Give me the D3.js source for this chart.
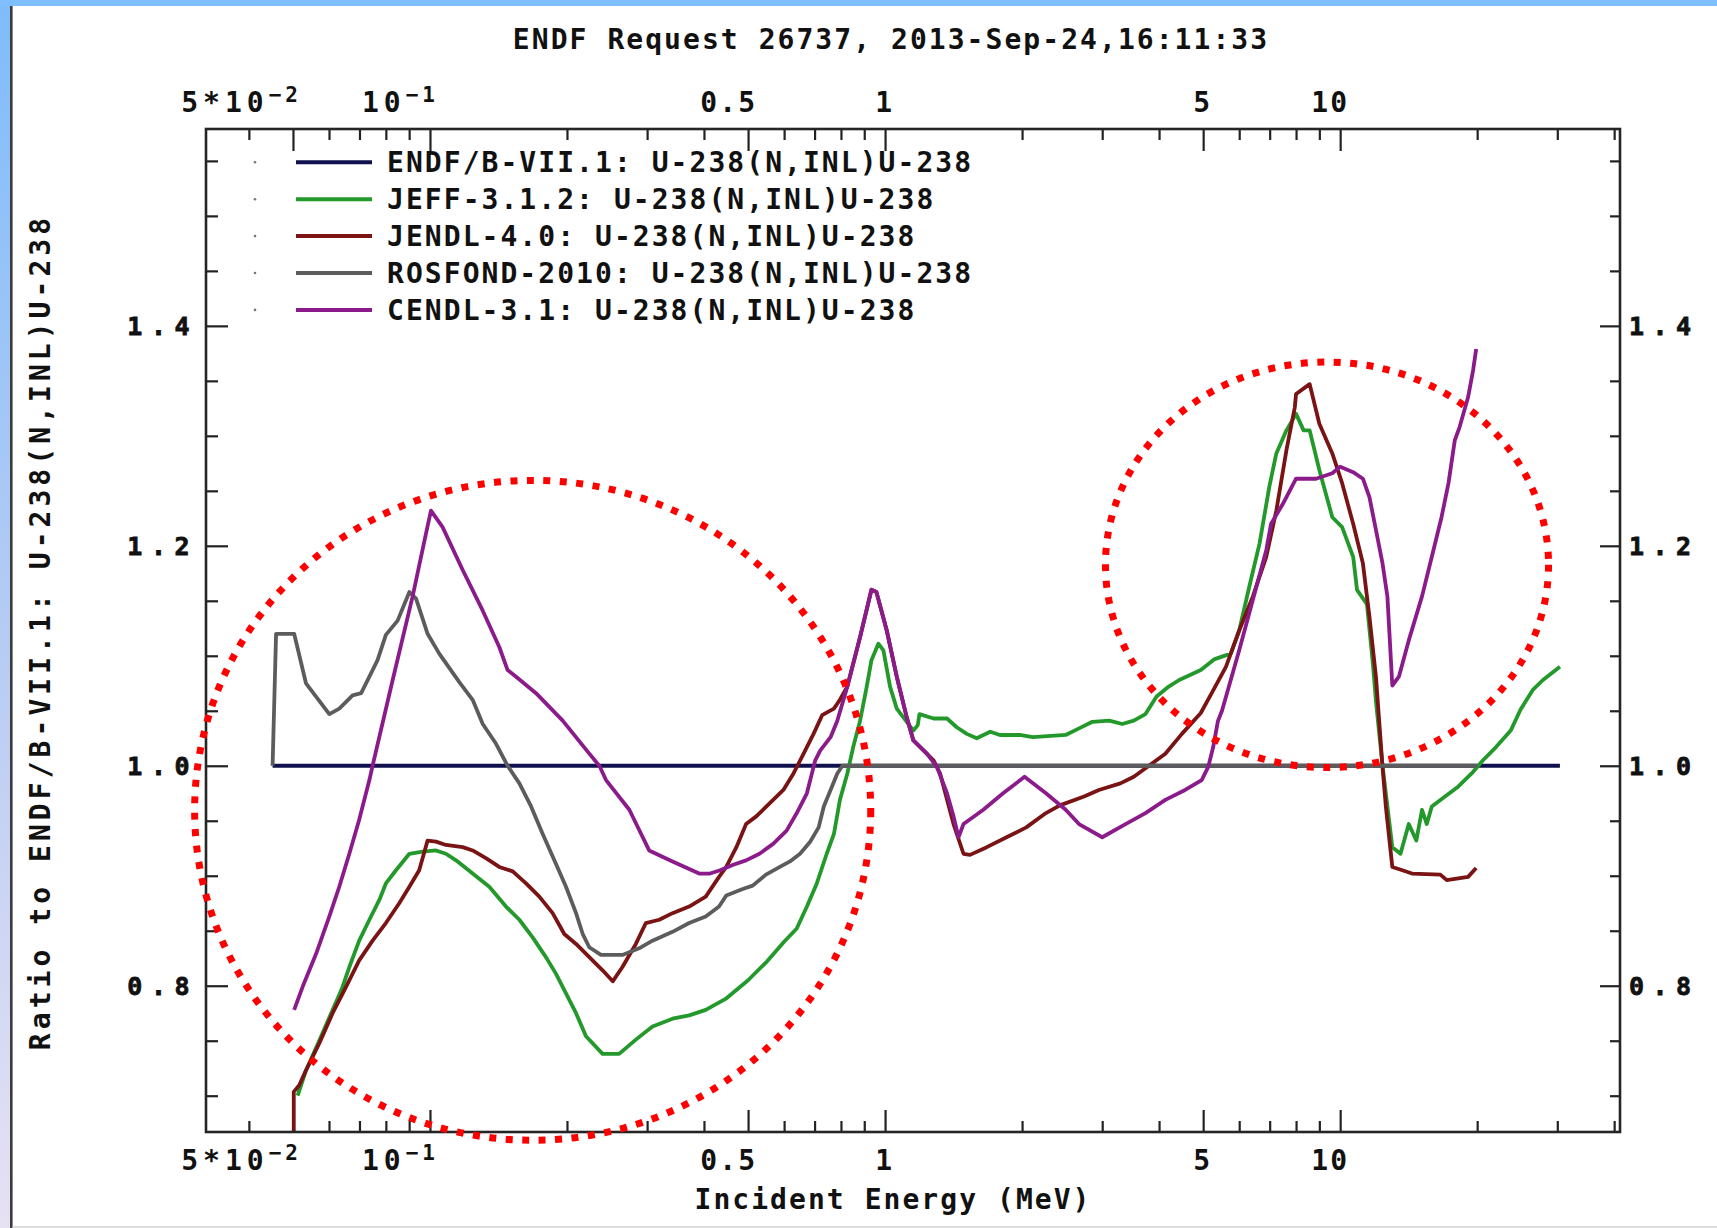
<!DOCTYPE html>
<html>
<head>
<meta charset="utf-8">
<script src="https://cdn.jsdelivr.net/npm/d3@7"></script>
<style>
  html, body { margin: 0; padding: 0; background: #ffffff; overflow: hidden; }
  svg { display: block; }
</style>
</head>
<body>
<svg id="chart" width="1717" height="1228"></svg>
<script>
// ---- axis ticks and labels ----
const energyMajor = [0.05, 0.1, 0.5, 1, 5, 10];
const energyMajorLabels = [["5*10", "\u22122"], ["10", "\u22121"], ["0.5", ""], ["1", ""], ["5", ""], ["10", ""]];
const energyMinor = [0.04, 0.06, 0.07, 0.08, 0.09, 0.2, 0.3, 0.4, 0.6, 0.7, 0.8, 0.9,
                     2, 3, 4, 6, 7, 8, 9, 20, 30, 40];
const ratioMajor = [0.8, 1.0, 1.2, 1.4];
const ratioLabels = ["0.8", "1.0", "1.2", "1.4"];
const ratioMinor = [0.7, 0.75, 0.85, 0.9, 0.95, 1.05, 1.1, 1.15, 1.25, 1.3, 1.35, 1.45, 1.5, 1.55];

// ---- evaluated libraries: [incident energy (MeV), ratio to ENDF/B-VII.1] ----
const libraryNames = [
  "ENDF/B-VII.1: U-238(N,INL)U-238",
  "JEFF-3.1.2: U-238(N,INL)U-238",
  "JENDL-4.0: U-238(N,INL)U-238",
  "ROSFOND-2010: U-238(N,INL)U-238",
  "CENDL-3.1: U-238(N,INL)U-238"
];
const libraryColors = ["#10104f", "#22992a", "#7a1414", "#5c5c5c", "#8b1b8b"];

const endf = [[0.0451, 1.0], [30.4, 1.0]];

const jeff = [
  [0.0512, 0.700], [0.0534, 0.723], [0.0571, 0.750], [0.0611, 0.778], [0.0640, 0.797],
  [0.0665, 0.817], [0.0699, 0.841], [0.0736, 0.860], [0.0774, 0.878], [0.0800, 0.893],
  [0.0842, 0.905], [0.0901, 0.920], [0.0964, 0.922], [0.1031, 0.923], [0.1084, 0.920],
  [0.1141, 0.914], [0.1241, 0.902], [0.135, 0.890], [0.1469, 0.872], [0.1572, 0.860],
  [0.1681, 0.844], [0.1798, 0.826], [0.1891, 0.811], [0.199, 0.793], [0.2094, 0.775],
  [0.2202, 0.754], [0.2395, 0.738], [0.2604, 0.738], [0.2834, 0.751], [0.3083, 0.763],
  [0.3412, 0.770], [0.3711, 0.773], [0.4036, 0.778], [0.4462, 0.788], [0.50, 0.805],
  [0.55, 0.822], [0.60, 0.840], [0.6397, 0.852], [0.6733, 0.872], [0.7079, 0.893],
  [0.7444, 0.920], [0.772, 0.938], [0.7958, 0.969], [0.8262, 0.993], [0.8511, 1.017],
  [0.8813, 1.041], [0.9114, 1.072], [0.9334, 1.096], [0.9666, 1.111], [0.9916, 1.105],
  [1.0255, 1.072], [1.061, 1.052], [1.154, 1.032], [1.18, 1.037], [1.19, 1.047],
  [1.278, 1.043], [1.368, 1.043], [1.437, 1.035], [1.512, 1.029], [1.59, 1.025],
  [1.702, 1.031], [1.788, 1.028], [1.977, 1.028], [2.113, 1.026], [2.494, 1.028],
  [2.668, 1.034], [2.855, 1.040], [3.11, 1.041], [3.32, 1.038], [3.52, 1.041],
  [3.734, 1.047], [3.95, 1.063], [4.2, 1.072], [4.43, 1.078], [4.94, 1.087],
  [5.3, 1.097], [5.75, 1.102], [6.0, 1.123], [6.34, 1.166], [6.65, 1.202],
  [6.99, 1.254], [7.24, 1.284], [7.62, 1.305], [8.0, 1.320], [8.31, 1.305],
  [8.57, 1.305], [9.0, 1.269], [9.61, 1.226], [10.1, 1.217], [10.68, 1.190],
  [10.89, 1.160], [11.45, 1.147], [11.8, 1.093], [11.99, 1.058], [12.39, 1.0],
  [13.02, 0.926], [13.57, 0.920], [14.15, 0.947], [14.7, 0.932], [15.13, 0.960],
  [15.5, 0.947], [15.9, 0.963], [17.0, 0.972], [18.16, 0.981], [19.45, 0.993],
  [20.6, 1.005], [22.0, 1.017], [23.7, 1.032], [24.9, 1.051], [26.5, 1.069],
  [27.9, 1.078], [30.4, 1.090]
];

const jendl = [
  [0.0502, 0.640], [0.0502, 0.7035], [0.0516, 0.7095], [0.0534, 0.723], [0.0571, 0.7475],
  [0.0611, 0.775], [0.0654, 0.799], [0.0699, 0.823], [0.0748, 0.841], [0.0800, 0.857],
  [0.0856, 0.875], [0.0901, 0.890], [0.0947, 0.905], [0.0988, 0.932], [0.1031, 0.931],
  [0.1084, 0.928], [0.118, 0.926], [0.1241, 0.923], [0.1327, 0.916], [0.142, 0.908],
  [0.152, 0.904], [0.1626, 0.893], [0.1739, 0.881], [0.186, 0.866], [0.1973, 0.847],
  [0.2094, 0.838], [0.2239, 0.826], [0.2395, 0.814], [0.2521, 0.804], [0.2648, 0.817],
  [0.2834, 0.838], [0.2981, 0.857], [0.319, 0.860], [0.3412, 0.866], [0.3711, 0.872],
  [0.4036, 0.881], [0.4317, 0.899], [0.4478, 0.908], [0.4713, 0.926], [0.495, 0.947],
  [0.5211, 0.954], [0.5581, 0.966], [0.5978, 0.978], [0.6292, 0.993], [0.6622, 1.011],
  [0.6964, 1.029], [0.7273, 1.046], [0.772, 1.052], [0.7958, 1.060], [0.8262, 1.072],
  [0.8813, 1.117], [0.9334, 1.160], [0.9571, 1.158], [1.0086, 1.123], [1.061, 1.081],
  [1.116, 1.044], [1.154, 1.023], [1.278, 1.005], [1.321, 0.993], [1.414, 0.947],
  [1.487, 0.920], [1.537, 0.919], [1.673, 0.926], [1.849, 0.935], [2.043, 0.944],
  [2.257, 0.957], [2.421, 0.964], [2.737, 0.972], [2.95, 0.978], [3.289, 0.984],
  [3.52, 0.990], [3.8, 1.0], [4.129, 1.011], [4.49, 1.029], [4.94, 1.048],
  [5.22, 1.066], [5.61, 1.090], [6.0, 1.123], [6.43, 1.154], [6.88, 1.190],
  [7.24, 1.232], [7.62, 1.287], [7.95, 1.326], [8.0, 1.338], [8.57, 1.347],
  [9.0, 1.311], [9.61, 1.284], [10.1, 1.257], [10.68, 1.220], [11.22, 1.184],
  [11.6, 1.135], [11.99, 1.080], [12.39, 0.999], [12.6, 0.963], [13.02, 0.908],
  [13.7, 0.905], [14.38, 0.902], [16.6, 0.901], [17.15, 0.896], [19.1, 0.899],
  [19.9, 0.907]
];

const rosfond = [
  [0.0451, 1.0], [0.0455, 1.060], [0.0459, 1.120], [0.0503, 1.120], [0.0534, 1.075],
  [0.0601, 1.047], [0.0632, 1.052], [0.0676, 1.064], [0.0706, 1.066], [0.0736, 1.081],
  [0.0767, 1.096], [0.0800, 1.119], [0.0849, 1.132], [0.0901, 1.158], [0.0932, 1.152],
  [0.0988, 1.120], [0.1048, 1.102], [0.116, 1.076], [0.1241, 1.060], [0.1306, 1.038],
  [0.1397, 1.020], [0.1481, 1.0], [0.1572, 0.984], [0.1668, 0.963], [0.1769, 0.938],
  [0.1891, 0.911], [0.199, 0.890], [0.2094, 0.866], [0.2166, 0.847], [0.2239, 0.835],
  [0.2375, 0.828], [0.2648, 0.828], [0.2881, 0.834], [0.3083, 0.841], [0.3412, 0.849],
  [0.3711, 0.857], [0.4036, 0.863], [0.4317, 0.872], [0.4478, 0.882], [0.4867, 0.888],
  [0.5118, 0.891], [0.5474, 0.901], [0.5873, 0.908], [0.6181, 0.913], [0.6504, 0.920],
  [0.6846, 0.931], [0.7146, 0.944], [0.7334, 0.963], [0.759, 0.978], [0.7853, 0.993],
  [0.8058, 1.0], [20.0, 1.0]
];

const cendl = [
  [0.0503, 0.778], [0.0525, 0.799], [0.0562, 0.829], [0.0601, 0.863], [0.0632, 0.890],
  [0.0665, 0.920], [0.0699, 0.951], [0.0736, 0.987], [0.0748, 1.0], [0.0828, 1.078],
  [0.0916, 1.154], [0.098, 1.211], [0.1005, 1.232], [0.1066, 1.217], [0.118, 1.178],
  [0.1306, 1.141], [0.142, 1.108], [0.1481, 1.087], [0.1546, 1.081], [0.171, 1.066],
  [0.1957, 1.041], [0.2239, 1.011], [0.2356, 1.0], [0.2437, 0.987], [0.2742, 0.960],
  [0.3031, 0.923], [0.3412, 0.913], [0.3904, 0.902], [0.4125, 0.902], [0.4341, 0.905],
  [0.464, 0.910], [0.495, 0.914], [0.5297, 0.920], [0.5676, 0.929], [0.6077, 0.941],
  [0.6397, 0.957], [0.6733, 0.975], [0.7024, 1.005], [0.7207, 1.014], [0.759, 1.026],
  [0.7853, 1.041], [0.8262, 1.072], [0.8813, 1.117], [0.9334, 1.160], [0.9571, 1.158],
  [1.0086, 1.123], [1.061, 1.081], [1.116, 1.044], [1.154, 1.023], [1.236, 1.011],
  [1.30, 0.999], [1.368, 0.975], [1.414, 0.954], [1.45, 0.935], [1.487, 0.947],
  [1.644, 0.960], [1.817, 0.975], [2.025, 0.990], [2.257, 0.975], [2.494, 0.960],
  [2.668, 0.947], [3.0, 0.935], [3.376, 0.947], [3.734, 0.957], [4.129, 0.969],
  [4.564, 0.978], [4.963, 0.987], [5.13, 0.999], [5.26, 1.017], [5.39, 1.041],
  [5.5, 1.050], [6.0, 1.105], [6.43, 1.151], [6.88, 1.196], [7.05, 1.220],
  [7.48, 1.238], [8.0, 1.261], [8.85, 1.261], [9.61, 1.266], [10.0, 1.272],
  [10.68, 1.267], [11.22, 1.261], [11.6, 1.244], [11.99, 1.214], [12.39, 1.184],
  [12.7, 1.154], [13.02, 1.073], [13.46, 1.081], [14.15, 1.114], [15.13, 1.154],
  [15.9, 1.190], [16.7, 1.226], [17.3, 1.257], [17.86, 1.296], [18.3, 1.308],
  [19.1, 1.335], [19.6, 1.360], [19.9, 1.379]
];

const librarySeries = [endf, jeff, jendl, rosfond, cendl];

// energy / ratio windows circled on the plot
const circledEnergy = [[0.0304, 0.930], [3.05, 28.7]];
const circledRatio = [[0.6595, 1.2595], [0.9984, 1.3671]];

// ---- layout ----
const W = 1717, H = 1228;
const plot = { left: 206, right: 1620, top: 129, bottom: 1132 };
const monoFont = "'DejaVu Sans Mono', 'Liberation Mono', monospace";
const textSize = 28, textSpacing = 2.05;

const x = d3.scaleLog().domain([0.0322, 41.2]).range([plot.left, plot.right]);
const y = d3.scaleLinear().domain([0.667, 1.579]).range([plot.bottom, plot.top]);

const svg = d3.select("#chart");
const defs = svg.append("defs");

// window decoration: blue strip along top, gradient strip along left edge
const grad = defs.append("linearGradient").attr("id", "edgeGrad")
  .attr("x1", 0).attr("y1", 0).attr("x2", 0).attr("y2", 1);
grad.append("stop").attr("offset", "0%").attr("stop-color", "#7fbcfb");
grad.append("stop").attr("offset", "55%").attr("stop-color", "#b9cdf3");
grad.append("stop").attr("offset", "100%").attr("stop-color", "#e7e1f4");

svg.append("rect").attr("width", W).attr("height", H).attr("fill", "#ffffff");
svg.append("rect").attr("x", 0).attr("y", 0).attr("width", 10).attr("height", H).attr("fill", "url(#edgeGrad)");
svg.append("rect").attr("x", 0).attr("y", 0).attr("width", W).attr("height", 6).attr("fill", "#80bfff");
svg.append("rect").attr("x", 10).attr("y", 6).attr("width", 2.6).attr("height", H - 6).attr("fill", "#3c3c3c");
svg.append("rect").attr("x", 12.6).attr("y", H - 2).attr("width", W - 12.6).attr("height", 2).attr("fill", "#dcdcdc");

defs.append("clipPath").attr("id", "plotClip")
  .append("rect")
  .attr("x", plot.left).attr("y", plot.top)
  .attr("width", plot.right - plot.left).attr("height", plot.bottom - plot.top);

// ---- ticks (drawn inward from the frame) ----
function styleAxis(g) {
  g.select(".domain").remove();
  g.selectAll(".tick line").attr("stroke", "#222").attr("stroke-width", 2.2);
  g.selectAll(".tick text").remove();
}
const axesG = svg.append("g");
axesG.append("g").attr("transform", `translate(0,${plot.bottom})`)
  .call(d3.axisBottom(x).tickValues(energyMinor).tickSize(-11).tickFormat("")).call(styleAxis);
axesG.append("g").attr("transform", `translate(0,${plot.bottom})`)
  .call(d3.axisBottom(x).tickValues(energyMajor).tickSize(-22).tickFormat("")).call(styleAxis);
axesG.append("g").attr("transform", `translate(0,${plot.top})`)
  .call(d3.axisTop(x).tickValues(energyMinor).tickSize(-11).tickFormat("")).call(styleAxis);
axesG.append("g").attr("transform", `translate(0,${plot.top})`)
  .call(d3.axisTop(x).tickValues(energyMajor).tickSize(-22).tickFormat("")).call(styleAxis);
axesG.append("g").attr("transform", `translate(${plot.left},0)`)
  .call(d3.axisLeft(y).tickValues(ratioMinor).tickSize(-12).tickFormat("")).call(styleAxis);
axesG.append("g").attr("transform", `translate(${plot.left},0)`)
  .call(d3.axisLeft(y).tickValues(ratioMajor).tickSize(-22).tickFormat("")).call(styleAxis);
axesG.append("g").attr("transform", `translate(${plot.right},0)`)
  .call(d3.axisRight(y).tickValues(ratioMinor).tickSize(-10).tickFormat("")).call(styleAxis);
axesG.append("g").attr("transform", `translate(${plot.right},0)`)
  .call(d3.axisRight(y).tickValues(ratioMajor).tickSize(-20).tickFormat("")).call(styleAxis);

// ---- data curves ----
const line = d3.line().x(d => x(d[0])).y(d => y(d[1]));
svg.append("g").attr("clip-path", "url(#plotClip)")
  .selectAll("path")
  .data(librarySeries)
  .join("path")
  .attr("d", line)
  .attr("fill", "none")
  .attr("stroke", (d, i) => libraryColors[i])
  .attr("stroke-width", 3.8)
  .attr("stroke-linejoin", "round");

// ---- frame ----
svg.append("rect")
  .attr("x", plot.left).attr("y", plot.top)
  .attr("width", plot.right - plot.left).attr("height", plot.bottom - plot.top)
  .attr("fill", "none").attr("stroke", "#252525").attr("stroke-width", 2.6);

// shared style for the bold monospace text
function boldText(sel, size, spacing) {
  return sel.attr("font-family", monoFont).attr("font-weight", "bold")
    .attr("font-size", size).attr("letter-spacing", spacing).attr("fill", "#111");
}

// ---- energy tick labels, top and bottom ----
function energyLabels(baseline) {
  svg.append("g")
    .selectAll("text")
    .data(d3.zip(energyMajor, energyMajorLabels))
    .join("text")
    .attr("x", d => x(d[0]) + 9)
    .attr("y", baseline)
    .attr("text-anchor", "end")
    .call(boldText, textSize, textSpacing)
    .each(function (d) {
      const t = d3.select(this);
      if (d[1][1]) {
        // power-of-ten label: wider base, raised exponent
        t.append("tspan").attr("letter-spacing", 5).text(d[1][0]);
        t.append("tspan").attr("font-size", 21).attr("letter-spacing", 4)
          .attr("dx", 0).attr("dy", -10).text(d[1][1]);
      } else {
        t.append("tspan").text(d[1][0]);
      }
    });
}
energyLabels(112);
energyLabels(1170);

// ---- ratio tick labels, left and right ----
const ratioText = (g, anchor, xpos) => g.selectAll("text")
  .data(d3.zip(ratioMajor, ratioLabels))
  .join("text")
  .attr("x", xpos)
  .attr("y", d => y(d[0]) + 9)
  .attr("text-anchor", anchor)
  .call(boldText, 25, 8.5)
  .attr("stroke", "#111").attr("stroke-width", 0.8)
  .text(d => d[1]);
ratioText(svg.append("g"), "end", 198);
ratioText(svg.append("g"), "start", 1629);

// ---- titles ----
svg.append("text")
  .attr("x", 891).attr("y", 49)
  .attr("text-anchor", "middle")
  .call(boldText, textSize, textSpacing)
  .text("ENDF Request 26737, 2013-Sep-24,16:11:33");

svg.append("text")
  .attr("x", 893).attr("y", 1209)
  .attr("text-anchor", "middle")
  .call(boldText, textSize, textSpacing)
  .text("Incident Energy (MeV)");

svg.append("text")
  .attr("transform", "translate(49.5,632) rotate(-90)")
  .attr("text-anchor", "middle")
  .call(boldText, textSize, 4.05)
  .text("Ratio to ENDF/B-VII.1: U-238(N,INL)U-238");

// ---- legend ----
const legend = svg.append("g");
const rowY = i => 162.3 + i * 36.9;
legend.selectAll("circle")
  .data(libraryNames).join("circle")
  .attr("cx", 255).attr("cy", (d, i) => rowY(i)).attr("r", 1.3).attr("fill", "#777");
legend.selectAll("line")
  .data(libraryNames).join("line")
  .attr("x1", 296).attr("x2", 372)
  .attr("y1", (d, i) => rowY(i)).attr("y2", (d, i) => rowY(i))
  .attr("stroke", (d, i) => libraryColors[i]).attr("stroke-width", 4);
legend.selectAll("text")
  .data(libraryNames).join("text")
  .attr("x", 387).attr("y", (d, i) => rowY(i) + 10)
  .call(boldText, textSize, textSpacing)
  .text(d => d);

// ---- dotted red circles around the regions of interest ----
svg.append("g")
  .selectAll("ellipse")
  .data(d3.zip(circledEnergy, circledRatio))
  .join("ellipse")
  .attr("cx", d => (x(d[0][0]) + x(d[0][1])) / 2)
  .attr("cy", d => (y(d[1][0]) + y(d[1][1])) / 2)
  .attr("rx", d => (x(d[0][1]) - x(d[0][0])) / 2)
  .attr("ry", d => (y(d[1][0]) - y(d[1][1])) / 2)
  .attr("fill", "none")
  .attr("stroke", "#ff0000")
  .attr("stroke-width", 7)
  .attr("stroke-dasharray", "7 9.5");
</script>
</body>
</html>
